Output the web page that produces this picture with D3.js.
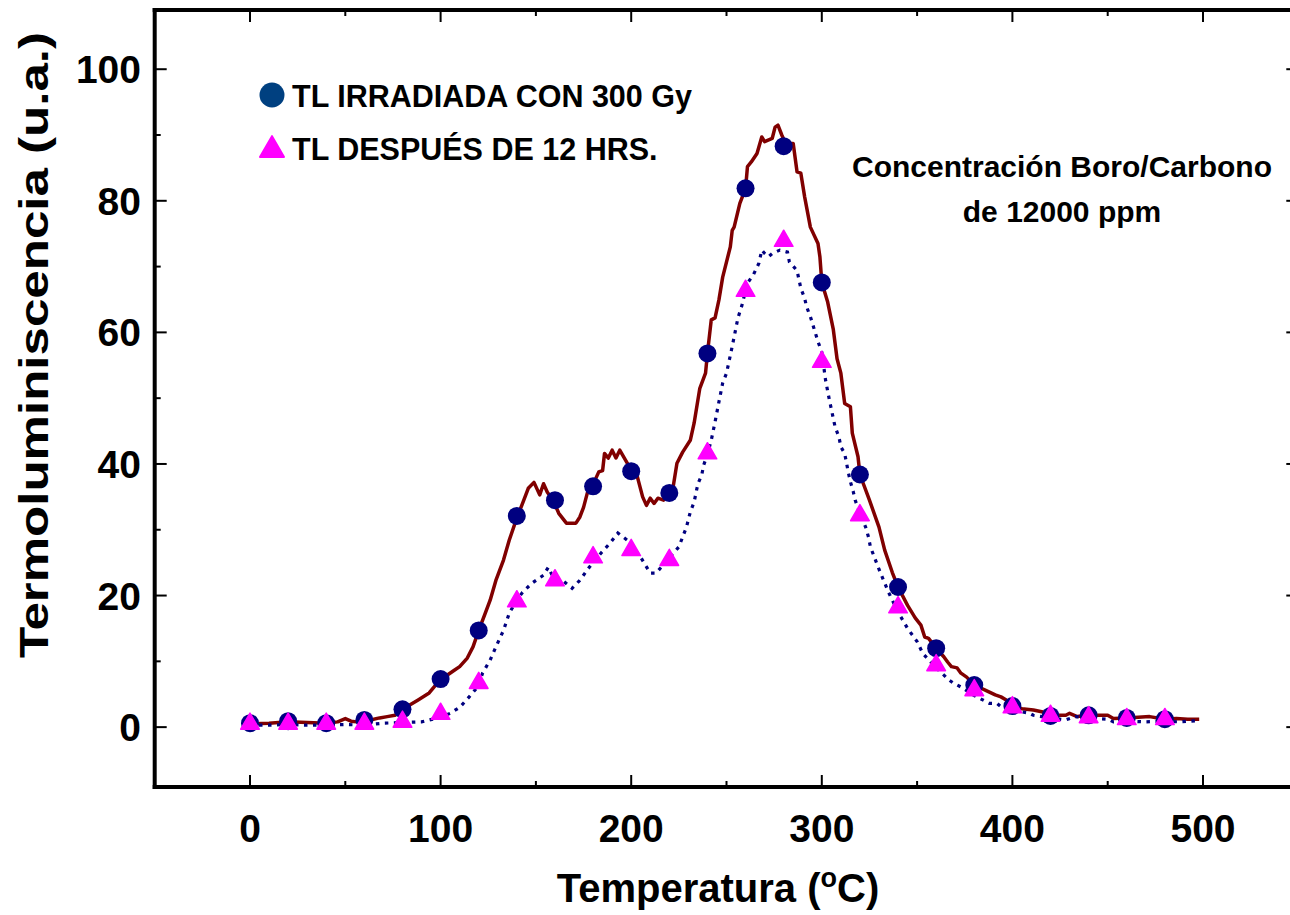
<!DOCTYPE html>
<html>
<head>
<meta charset="utf-8">
<script src="https://cdn.jsdelivr.net/npm/d3@7"></script>
<style>
  html, body { margin: 0; padding: 0; background: #fff; }
  svg { display: block; font-family: "Liberation Sans", Arial, sans-serif; font-weight: bold; }
</style>
</head>
<body>
<svg id="chart" width="1290" height="915"></svg>
<script>
// Sampled marker temperatures (°C)
const markerTemps = [0,20,40,60,80,100,120,140,160,180,200,220,240,260,280,300,320,340,360,380,400,420,440,460,480];
// TL after 300 Gy irradiation (circles)
const tlIrradiada = [0.6,0.9,0.6,1.1,2.7,7.3,14.7,32.1,34.5,36.6,38.9,35.6,56.8,81.9,88.3,67.6,38.4,21.3,12.0,6.4,3.2,1.7,1.8,1.4,1.2];
// TL measured 12 hours later (triangles)
const tlDespues = [0.5,0.5,0.5,0.5,0.8,2.0,6.7,19.1,22.3,25.8,26.9,25.4,41.6,66.3,73.9,55.5,32.2,18.2,9.4,5.6,3.0,1.7,1.5,1.2,1.2];

// Continuous glow curve, irradiated sample
const curveTempA = [0,10,20,30,40,46,50,53,56,62,68,72,76,80,84,88,94,100,103,107,110,114,117,120,123,126,129,133,136,140,143,146,149,152,154,156,159,162,166,171,173,175,177,180,183,185,186,188,190,192,194,198,200,203,206,208,210,212,214,217,220,222,224,227,231,233,236,239,240,242,244,246,248,252,253,254,257,260,261,263,266,268.5,270,274,275.5,277,279,281,285,287,289,291,294,298,299,300,303,306,308,310,312,315,316,319,320,325,330,333,337,340,345,349,352,354,356,360,364,366,368,371,373,376,380,386,391,394,397,400,405,411,416,420,428,430,434,440,450,453,460,466,472,480,486,492,498];
const curveTLA = [0.5,0.6,0.8,0.7,0.6,0.8,1.3,0.9,0.8,1.0,1.4,1.6,1.8,2.7,3.4,4.1,5.2,7.3,7.8,8.6,9.2,10.5,12.2,14.7,17.0,19.3,22.3,25.4,28.4,31.8,34.0,36.3,37.2,35.3,37.0,35.7,34.5,32.5,31.0,31.0,31.9,33.4,35.6,36.9,38.8,39.0,41.6,40.9,42.1,40.9,42.1,40.1,39.0,38.3,35.0,33.7,34.8,34.0,34.8,34.5,35.4,36.5,40.1,41.8,43.6,46.2,51.5,53.8,56.8,61.9,62.2,64.9,68.4,73.0,75.5,76.0,79.6,81.9,85.2,85.9,87.2,89.7,89.0,89.5,91.2,91.5,90.0,88.7,88.7,84.4,84.2,80.6,76.0,73.5,71.5,67.6,64.7,60.5,56.0,53.8,49.2,48.7,44.7,41.1,38.4,34.5,30.4,26.9,23.5,21.3,18.5,16.6,15.5,13.7,13.5,12.0,10.7,9.9,9.2,9.0,8.2,7.6,6.4,5.6,4.9,4.6,4.1,3.2,2.8,2.6,2.3,1.8,1.8,2.1,1.6,1.8,1.8,1.3,1.4,1.5,1.6,1.2,1.3,1.2,1.2];

// Continuous glow curve, after 12 hours
const curveTempB = [0,10,20,30,40,50,60,70,80,90,100,105,110,115,120,122,126,129,133,136,140,143,148,154,156.5,159,164,169,173,178,184,189,193,198,205,210,213,219,225,229,231,233,235,237,238,240,242,244,246,248,250,252,254,256,258,261,264,267,268.5,270,272,274,278,282,283,287,289,291,292,294,296,298,300,302,304,307,309,310,312,313,314,315,316.5,317.5,320,323,324.5,325.5,330,335,340,345,350,353,360,363,367,369,373,380,388,392,394,400,409,411,420,428,433,440,450,453,460,470,480,488,498];
const curveTLB = [0.3,0.3,0.4,0.3,0.3,0.4,0.3,0.6,0.7,0.8,1.5,2.1,3.0,4.6,6.3,8.2,10.2,12.2,14.7,17.3,19.3,20.5,21.9,23.1,24.3,22.8,22.3,21.1,22.3,24.3,26.4,28.0,29.5,28.4,25.8,23.4,23.4,25.4,27.4,30.4,32.7,34.2,37.0,38.3,39.8,41.5,43.6,46.4,49.4,52.3,53.8,56.5,59.3,62.2,64.0,67.5,68.7,70.5,72.5,72.0,71.5,72.0,72.5,72.2,70.7,69.4,66.7,65.2,63.9,62.4,60.5,58.6,57.0,52.7,49.7,45.6,44.1,42.6,41.6,40.1,38.6,37.3,35.8,34.5,32.5,30.4,28.9,27.4,24.0,20.5,17.5,15.0,13.0,11.2,9.0,8.2,7.1,6.7,6.1,4.8,3.6,3.6,3.1,2.6,2.1,1.8,1.4,1.1,1.6,1.4,1.2,0.8,0.9,0.8,0.9,0.8,1.0];

// Axis ticks and labels
const xMajorTicks = [0,100,200,300,400,500];
const xMinorTicks = [50,150,250,350,450];
const yMajorTicks = [0,20,40,60,80,100];
const yMinorTicks = [10,30,50,70,90];

const legendLabels = ["TL IRRADIADA CON 300 Gy", "TL DESPUÉS DE 12 HRS."];
const noteLines = ["Concentración Boro/Carbono", "de 12000 ppm"];

const svg = d3.select("#chart");

const x = d3.scaleLinear().domain([-50, 550]).range([154.7, 1298.3]);
const y = d3.scaleLinear().domain([-9.1, 109]).range([787, 10]);

const colSolid = "#800000", colDot = "#000080", colCircle = "#000080", colTri = "#ff00ff";

// Glow curves
const lineA = d3.line().x((d, i) => x(curveTempA[i])).y(d => y(d));
const lineB = d3.line().x((d, i) => x(curveTempB[i])).y(d => y(d));

svg.append("path").datum(curveTLA).attr("d", lineA)
  .attr("fill", "none").attr("stroke", colSolid).attr("stroke-width", 3.5)
  .attr("stroke-linejoin", "round");

svg.append("path").datum(curveTLB).attr("d", lineB)
  .attr("fill", "none").attr("stroke", colDot).attr("stroke-width", 3.2)
  .attr("stroke-dasharray", "3.5,5.5");

// Markers
svg.append("g").selectAll("circle").data(tlIrradiada).join("circle")
  .attr("cx", (d, i) => x(markerTemps[i])).attr("cy", d => y(d))
  .attr("r", 9).attr("fill", colCircle);

const tri = d3.symbol().type(d3.symbolTriangle).size(150);
svg.append("g").selectAll("path").data(tlDespues).join("path")
  .attr("d", tri)
  .attr("transform", (d, i) => `translate(${x(markerTemps[i])},${y(d)})`)
  .attr("fill", colTri).attr("stroke", colTri).attr("stroke-width", 1.5).attr("stroke-linejoin", "round");

// Frame and ticks
const frame = svg.append("g").attr("stroke", "#000");
const [x0, x1] = x.range();
const [yb, yt] = y.range();
frame.append("line").attr("x1", x0).attr("x2", x0).attr("y1", yt - 2).attr("y2", yb + 2).attr("stroke-width", 4);
frame.append("line").attr("x1", x1).attr("x2", x1).attr("y1", yt - 2).attr("y2", yb + 2).attr("stroke-width", 4);
frame.append("line").attr("x1", x0 - 2).attr("x2", x1 + 2).attr("y1", yb).attr("y2", yb).attr("stroke-width", 4);
frame.append("line").attr("x1", x0 - 2).attr("x2", x1 + 2).attr("y1", yt).attr("y2", yt).attr("stroke-width", 4);

function xTicks(vals, len) {
  vals.forEach(v => {
    frame.append("line").attr("x1", x(v)).attr("x2", x(v)).attr("y1", yb).attr("y2", yb - len).attr("stroke-width", 2);
    frame.append("line").attr("x1", x(v)).attr("x2", x(v)).attr("y1", yt).attr("y2", yt + len).attr("stroke-width", 2);
  });
}
function yTicks(vals, len) {
  vals.forEach(v => {
    frame.append("line").attr("y1", y(v)).attr("y2", y(v)).attr("x1", x0).attr("x2", x0 + len).attr("stroke-width", 2);
    frame.append("line").attr("y1", y(v)).attr("y2", y(v)).attr("x1", x1).attr("x2", x1 - len).attr("stroke-width", 2);
  });
}
xTicks(xMajorTicks, 12);
xTicks(xMinorTicks, 6);
yTicks(yMajorTicks, 12);
yTicks(yMinorTicks, 6);

// Tick labels
svg.append("g").selectAll("text").data(xMajorTicks).join("text")
  .attr("x", d => x(d)).attr("y", 842)
  .attr("text-anchor", "middle").attr("font-size", 39).text(d => d);

svg.append("g").selectAll("text").data(yMajorTicks).join("text")
  .attr("x", 141).attr("y", d => y(d) + 14)
  .attr("text-anchor", "end").attr("font-size", 39).text(d => d);

// Axis titles
const xt = svg.append("text").attr("x", 718).attr("y", 902)
  .attr("text-anchor", "middle").attr("font-size", 40);
xt.append("tspan").text("Temperatura (");
xt.append("tspan").attr("font-size", 27).attr("dy", -15).text("o");
xt.append("tspan").attr("dy", 15).text("C)");

svg.append("text")
  .attr("transform", "translate(48,345) rotate(-90)")
  .attr("text-anchor", "middle").attr("font-size", 41)
  .attr("textLength", 626).attr("lengthAdjust", "spacingAndGlyphs")
  .text("Termoluminiscencia (u.a.)");

// Legend
svg.append("circle").attr("cx", 272).attr("cy", 95).attr("r", 12.5).attr("fill", "#004080");
svg.append("path").attr("d", d3.symbol().type(d3.symbolTriangle).size(250))
  .attr("transform", "translate(272,150)")
  .attr("fill", colTri).attr("stroke", colTri).attr("stroke-width", 2).attr("stroke-linejoin", "round");
svg.append("g").selectAll("text").data(legendLabels).join("text")
  .attr("x", 292).attr("y", (d, i) => 107 + i * 53)
  .attr("font-size", 30.5).text(d => d);

// Annotation
svg.append("g").selectAll("text").data(noteLines).join("text")
  .attr("x", 1062).attr("y", (d, i) => 177 + i * 45)
  .attr("text-anchor", "middle").attr("font-size", 30).text(d => d);
</script>
</body>
</html>
